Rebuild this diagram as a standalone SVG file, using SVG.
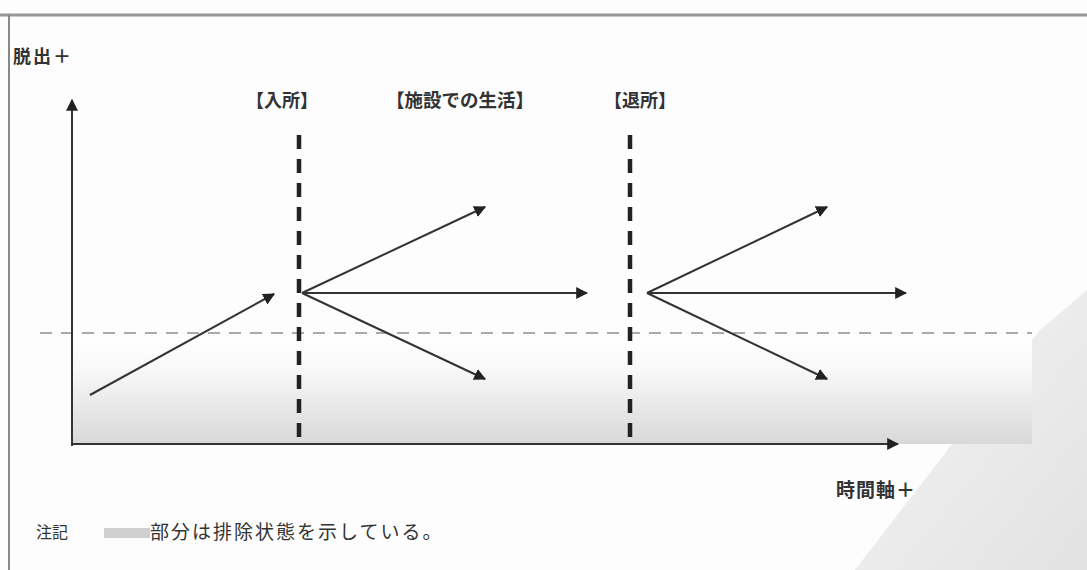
<svg xmlns="http://www.w3.org/2000/svg" width="1087" height="570" viewBox="0 0 1087 570">
<style>
.t{font-family:"Liberation Serif","Noto Sans CJK JP",serif;fill:#333;}
.ax{stroke:#333;stroke-width:2;fill:none;}
.ar{stroke:#333;stroke-width:2;fill:none;}
.vd{stroke:#222;stroke-width:4.5;stroke-dasharray:14 10;fill:none;}
</style>
<defs>
<marker id="ah2" viewBox="0 0 10 10" refX="9" refY="5" markerWidth="12" markerHeight="12" markerUnits="userSpaceOnUse" orient="auto"><path d="M0,0 L10,5 L0,10 z" fill="#222"/></marker>
<linearGradient id="g" x1="0" y1="0" x2="0" y2="1"><stop offset="0" stop-color="#ffffff"/><stop offset="0.3" stop-color="#f8f8f8"/><stop offset="1" stop-color="#d8d8d8"/></linearGradient>
<linearGradient id="curl" x1="0" y1="0" x2="1" y2="1"><stop offset="0" stop-color="#f5f5f5"/><stop offset="1" stop-color="#e2e2e2"/></linearGradient>
</defs>
<rect width="1087" height="570" fill="#fdfdfd"/>
<polygon points="1087,290 1087,570 855,570 1040,330" fill="url(#curl)"/>
<line x1="0" y1="15" x2="1087" y2="15" stroke="#999" stroke-width="3"/>
<line x1="9" y1="15" x2="9" y2="570" stroke="#888" stroke-width="2"/>
<g id="band"><rect x="72" y="338" width="960" height="106" fill="url(#g)"/></g>
<g id="baseline"><line x1="40" y1="333" x2="1032" y2="333" stroke="#aaa" stroke-width="2" stroke-dasharray="12 9"/></g>
<g id="axes">
<line class="ax" x1="72" y1="446" x2="72" y2="100" marker-end="url(#ah2)"/>
<line class="ax" x1="72" y1="444" x2="898" y2="444" marker-end="url(#ah2)"/>
</g>
<g id="dividers">
<line class="vd" x1="299" y1="135" x2="299" y2="444"/>
<line class="vd" x1="630" y1="135" x2="630" y2="442"/>
</g>
<g id="connectors">
<line class="ar" x1="90" y1="395" x2="274" y2="294" marker-end="url(#ah2)"/>
<line class="ar" x1="302" y1="293" x2="485" y2="207" marker-end="url(#ah2)"/>
<line class="ar" x1="302" y1="293" x2="587" y2="293" marker-end="url(#ah2)"/>
<line class="ar" x1="302" y1="293" x2="485" y2="379" marker-end="url(#ah2)"/>
<line class="ar" x1="647" y1="293" x2="827" y2="207" marker-end="url(#ah2)"/>
<line class="ar" x1="647" y1="293" x2="906" y2="293" marker-end="url(#ah2)"/>
<line class="ar" x1="647" y1="293" x2="827" y2="379" marker-end="url(#ah2)"/>
</g>
<g id="labels">
<text class="t" x="13" y="63" font-size="18" font-weight="bold" letter-spacing="2">脱出＋</text>
<text class="t" x="282" y="107" font-size="18" font-weight="bold" text-anchor="middle">【入所】</text>
<text class="t" x="460" y="107" font-size="18.5" font-weight="bold" text-anchor="middle">【施設での生活】</text>
<text class="t" x="640" y="107" font-size="18" font-weight="bold" text-anchor="middle">【退所】</text>
<text class="t" x="836" y="497" font-size="19" font-weight="bold" letter-spacing="1">時間軸＋</text>
</g>
<g id="note">
<text class="t" x="36" y="538" font-size="16">注記</text>
<rect x="104" y="528" width="46" height="10" fill="#cfcfcf"/>
<text class="t" x="150" y="539" font-size="19" letter-spacing="2">部分は排除状態を示している。</text>
</g>
</svg>
